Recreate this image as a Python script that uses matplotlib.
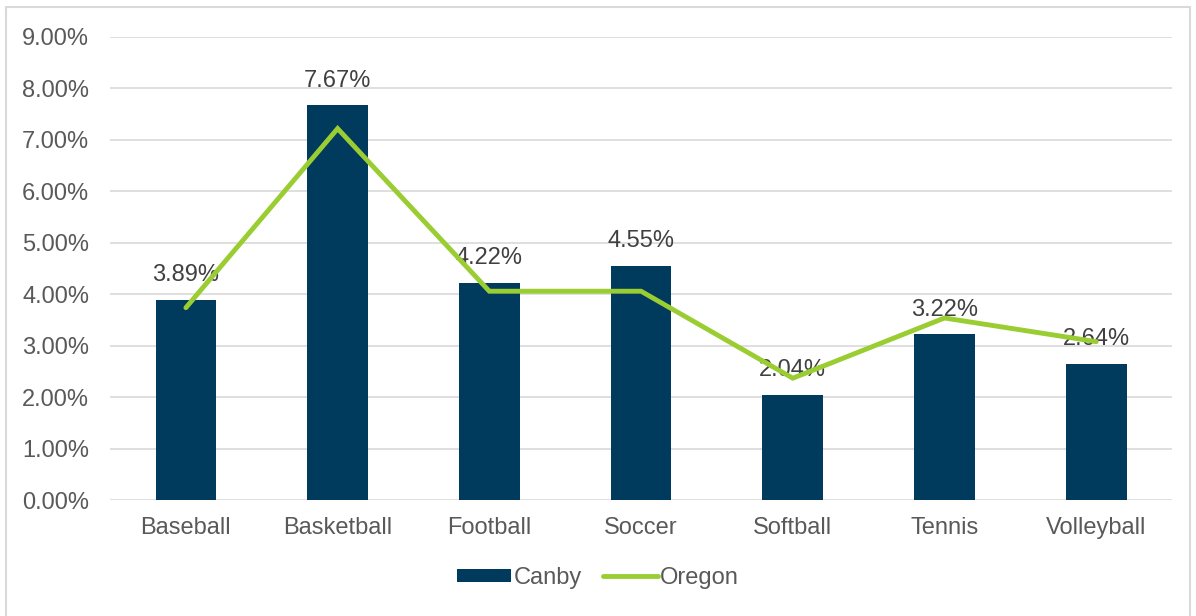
import matplotlib
matplotlib.use("Agg")
import matplotlib.pyplot as plt
from matplotlib.patches import Rectangle
from matplotlib.ticker import FuncFormatter

# data
sports = ["Baseball", "Basketball", "Football", "Soccer", "Softball", "Tennis", "Volleyball"]
canby = [3.89, 7.67, 4.22, 4.55, 2.04, 3.22, 2.64]
oregon = [3.74, 7.22, 4.06, 4.06, 2.37, 3.54, 3.08]

plt.rcParams["font.family"] = ["Liberation Sans", "DejaVu Sans"]

fig = plt.figure(figsize=(11.96, 6.16), dpi=100)
ax = fig.add_axes([0.092, 0.188, 0.888, 0.752])

x = range(len(sports))
bars = ax.bar(x, canby, width=0.4, color="#003A5D", label="Canby", zorder=2)
line, = ax.plot(x, oregon, color="#9ACD32", lw=3.5, solid_capstyle="round",
                solid_joinstyle="miter", label="Oregon", zorder=4)

for i, v in enumerate(canby):
    ax.annotate(f"{v:.2f}%", (i, v), xytext=(0, 10), textcoords="offset points",
                ha="center", va="bottom", fontsize=17, color="#404040", zorder=3)

ax.set_xlim(-0.5, len(sports) - 0.5)
ax.set_ylim(0, 9)
ax.set_yticks(range(0, 10))
ax.yaxis.set_major_formatter(FuncFormatter(lambda v, p: f"{v:.2f}%"))
ax.set_xticks(list(x))
ax.set_xticklabels(sports)
ax.tick_params(axis="both", length=0, labelsize=17, colors="#595959")
ax.tick_params(axis="x", pad=12)
ax.tick_params(axis="y", pad=15)
ax.grid(axis="y", color="#D9D9D9", lw=1.2, zorder=0)
ax.set_axisbelow(True)
for s in ax.spines.values():
    s.set_visible(False)

leg = fig.legend([bars, line], ["Canby", "Oregon"], loc="center",
                 bbox_to_anchor=(0.5, 0.062), ncol=2, frameon=False,
                 fontsize=17, handlelength=2.3, handleheight=0.5,
                 handletextpad=0.1, columnspacing=0.9)
for t in leg.get_texts():
    t.set_color("#595959")

fig.patches.append(Rectangle((0.005, -0.01), 0.99, 0.998, transform=fig.transFigure,
                             fill=False, ec="#D9D9D9", lw=1.5))

fig.savefig("out.png", dpi=100)
